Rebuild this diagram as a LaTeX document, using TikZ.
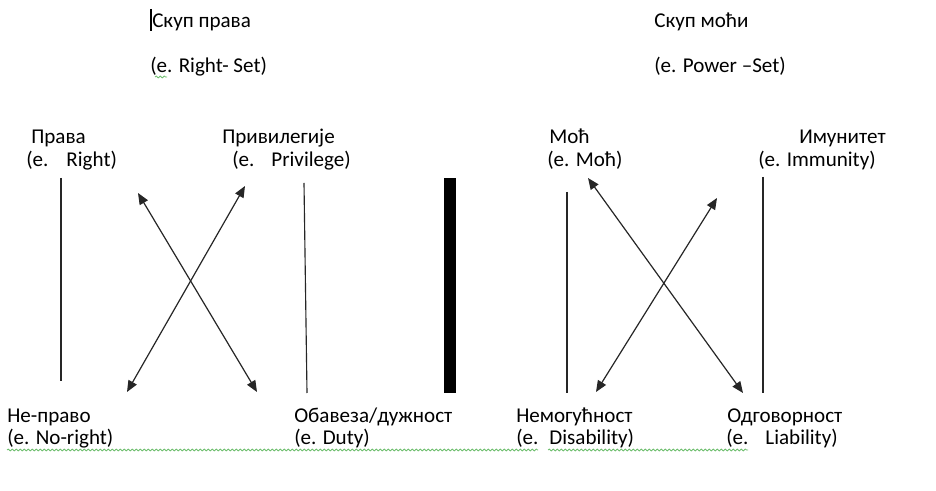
\documentclass[tikz,border=0pt]{standalone}
\usepackage{fontspec}
\setmainfont{Carlito}
\usetikzlibrary{arrows.meta,decorations.pathmorphing}
\definecolor{wavy}{RGB}{110,190,110}
\begin{document}
\begin{tikzpicture}[x=0.75pt,y=-0.75pt,
  lbl/.style={anchor=base west,inner sep=0pt,font=\fontsize{15.8}{18}\selectfont},
  thin line/.style={line width=0.85pt,black!85},
  dbl arrow/.style={line width=0.9pt,black!85,{Triangle[length=8.5pt,width=7pt]}-{Triangle[length=8.5pt,width=7pt]}},
  squiggle/.style={wavy,line width=0.6pt,decorate,decoration={snake,segment length=3pt,amplitude=0.7pt}}]
\useasboundingbox[fill=white] (0,0) rectangle (936,491);

% titles
\node[lbl] (t1) at (152,28) {Скуп права};
\node[lbl] (t1e) at (150,73) {(e. Right- Set)};
\node[lbl] (t2) at (654,28) {Скуп моћи};
\node[lbl] (t2e) at (654,73) {(e. Power –Set)};

% cursor
\coordinate (cA) at (151,9);
\coordinate (cB) at (151,31);
\draw[line width=1.4pt] (cA) -- (cB);

% top labels
\node[lbl] (pr) at (31,144) {Права};
\node[lbl] (pre) at (26,167) {(e.\hspace{13.5pt}Right)};
\node[lbl] (pv) at (222,144) {Привилегије};
\node[lbl] (pve) at (232,167) {(e.\hspace{12.75pt}Privilege)};
\node[lbl] (mo) at (549,144) {Моћ};
\node[lbl] (moe) at (547,167) {(e. Моћ)};
\node[lbl] (im) at (799,144) {Имунитет};
\node[lbl] (ime) at (758,167) {(e. Immunity)};

% bottom labels
\node[lbl] (np) at (7,423) {Не-право};
\node[lbl] (npe) at (7,445) {(e. No-right)};
\node[lbl] (ob) at (294,423) {Обавеза/дужност};
\node[lbl] (obe) at (294,445) {(e. Duty)};
\node[lbl] (ne) at (516,423) {Немогућност};
\node[lbl] (nee) at (516,445) {(e.\hspace{8.25pt}Disability)};
\node[lbl] (od) at (727,423) {Одговорност};
\node[lbl] (ode) at (726,445) {(e.\hspace{12.75pt}Liability)};

% vertical lines
\coordinate (v1a) at (61,178);  \coordinate (v1b) at (61,381);
\coordinate (v2a) at (304,183); \coordinate (v2b) at (307,393);
\coordinate (v3a) at (567,192); \coordinate (v3b) at (567,393);
\coordinate (v4a) at (763,177); \coordinate (v4b) at (763,393);
\draw[thin line] (v1a) -- (v1b);
\draw[thin line] (v2a) -- (v2b);
\draw[thin line] (v3a) -- (v3b);
\draw[thin line] (v4a) -- (v4b);

% thick separator
\coordinate (sepA) at (444,178);
\coordinate (sepB) at (456,393);
\fill[black] (sepA) rectangle (sepB);

% left cross
\coordinate (la1) at (138,193); \coordinate (la2) at (257,392);
\coordinate (lb1) at (245,186); \coordinate (lb2) at (127,392);
\draw[dbl arrow] (la1) -- (la2);
\draw[dbl arrow] (lb1) -- (lb2);

% right cross
\coordinate (ra1) at (588,178); \coordinate (ra2) at (743,393);
\coordinate (rb1) at (717,198); \coordinate (rb2) at (596,392);
\draw[dbl arrow] (ra1) -- (ra2);
\draw[dbl arrow] (rb1) -- (rb2);

% spell-check squiggles
\coordinate (w1a) at (7,450);   \coordinate (w1b) at (538,450);
\coordinate (w2a) at (548,450); \coordinate (w2b) at (748,450);
\coordinate (w3a) at (155,77);  \coordinate (w3b) at (167,77);
\draw[squiggle] (w1a) -- (w1b);
\draw[squiggle] (w2a) -- (w2b);
\draw[squiggle] (w3a) -- (w3b);
\end{tikzpicture}
\end{document}
